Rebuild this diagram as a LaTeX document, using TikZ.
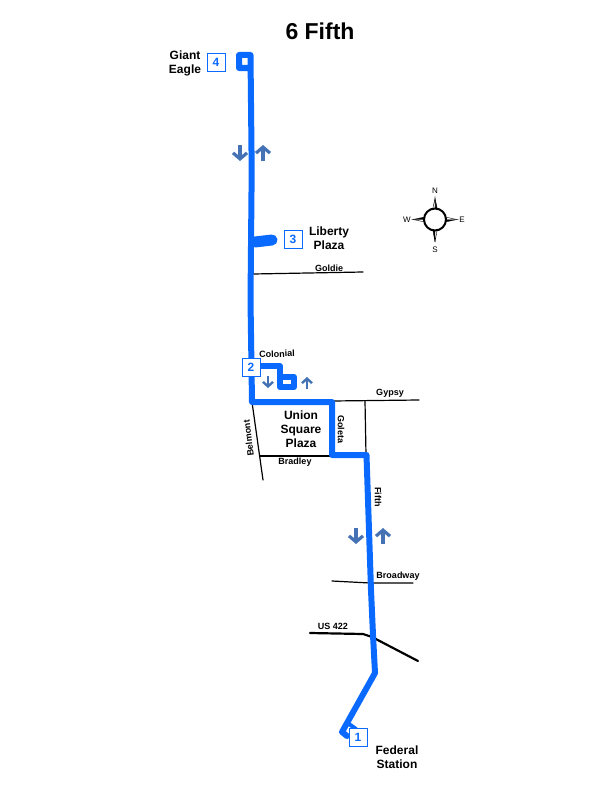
\documentclass[tikz,border=0pt]{standalone}
\usepackage{fontspec}
\setmainfont{Liberation Sans}
\usepackage{tkz-euclide}
\usetikzlibrary{arrows.meta}
\definecolor{routeblue}{HTML}{0A6AFF}
\definecolor{arrowblue}{HTML}{4472B4}
\tikzset{
	route/.style={color=routeblue,line width=6pt,line join=round,line cap=round},
	street/.style={color=black,line width=1.2pt},
	stopbox/.style={draw=routeblue,fill=white,line width=0.9pt,minimum size=18pt,inner sep=0pt,text=routeblue,font=\bfseries\fontsize{12}{12}\selectfont},
	place/.style={align=center,font=\bfseries\fontsize{12}{14}\selectfont},
	streetname/.style={font=\bfseries\fontsize{9}{9}\selectfont,inner sep=0pt},
	compassname/.style={font=\fontsize{8}{8}\selectfont,inner sep=0pt},
	dirarrow/.style={color=arrowblue,line width=3.2pt,-{Straight Barb[length=6pt,width=14pt,line width=3.2pt]}},
	smallarrow/.style={color=arrowblue,line width=2.4pt,-{Straight Barb[length=4.5pt,width=10pt,line width=2.4pt]}},
	spike/.style={fill=black,draw=black,line width=0.4pt},
	spikecore/.style={fill=white,draw=black,line width=0.4pt}
}
\begin{document}
\begin{tikzpicture}[x=1pt,y=-1pt]
	\useasboundingbox (0,0) rectangle (612,792);
	
	\tkzDefPoints{250.5/55/Ta,239/55/Tb,239/68/Tc,250.5/68/Td,251.7/170/Te,250.5/300/Tf,252/402/Tg,
		332/402/Th,332/455/Ti,366.5/455/Tj,371/590/Tk,373/635/Tl,375/673/Tm,342/732/Tn,347/736/To,
		349/724/Tp,356/729/Tq}
	\tkzDefPoints{255/242/La,272/240/Lb,251/366/Ca,280/366/Cb,280/377/Cc,294/377/Cd,294/387/Ce,280/387/Cf}
	
	\tkzDefPoints{253/274/Ga,363/272/Gb,332/401/Ya,419/400/Yb,365/401/Za,366/455/Zb,
		252/402/Ba,263/480/Bb,260/456/Ra,332/456/Rb,332/581/Wa,370/583/Wb,413/583/Wc,
		310/633/Ua,363/634/Ub,372/637/Uc,418/661/Ud}
	
	\tkzDrawSegment[street](Ga,Gb)
	\tkzDrawSegment[street](Ya,Yb)
	\tkzDrawSegment[street](Za,Zb)
	\tkzDrawSegment[street](Ba,Bb)
	\tkzDrawSegment[street](Ra,Rb)
	\tkzDrawPolySeg[street](Wa,Wb,Wc)
	\tkzDrawPolySeg[street,line width=2.2pt](Ua,Ub,Uc,Ud)
	
	\tkzDrawPolySeg[route](Td,Tc,Tb,Ta,Te,Tf,Tg,Th,Ti,Tj,Tk,Tl,Tm,Tn,To)
	\tkzDrawSegment[route,line width=4pt](Tp,Tq)
	\tkzDrawSegment[route,line width=11pt](La,Lb)
	\tkzDrawPolySeg[route](Ca,Cb,Cf,Ce,Cd,Cc)
	
	\draw[dirarrow] (240,145) -- (240,161);
	\draw[dirarrow] (263,161) -- (263,145);
	\draw[smallarrow] (268,376) -- (268,388);
	\draw[smallarrow] (307,389) -- (307,377);
	\draw[dirarrow] (356,528) -- (356,544);
	\draw[dirarrow] (383,544) -- (383,528);
	
	\node[stopbox] (stopone) at (358,737) {1};
	\node[stopbox] (stoptwo) at (251,367) {2};
	\node[stopbox] (stopthree) at (293,239) {3};
	\node[stopbox] (stopfour) at (216,62) {4};
	
	\node[font=\bfseries\fontsize{23}{23}\selectfont] (title) at (320,31) {6 Fifth};
	\node[place] (eagle) at (185,63) {Giant\\Eagle};
	\node[place] (liberty) at (329,238) {Liberty\\Plaza};
	\node[place] (union) at (301,429.5) {Union\\Square\\Plaza};
	\node[place] (federal) at (397,757) {Federal\\Station};
	
	\node[streetname] (goldie) at (329,268) {Goldie};
	\node[streetname,rotate=2] (colonial) at (277,354) {Colonial};
	\node[streetname] (gypsy) at (390,393) {Gypsy};
	\node[streetname] (bradley) at (295,462) {Bradley};
	\node[streetname,rotate=97] (belmont) at (248.5,438) {Belmont};
	\node[streetname,rotate=-90] (goleta) at (341,429) {Goleta};
	\node[streetname,rotate=-90] (fifth) at (378,497) {Fifth};
	\node[streetname] (broadway) at (398,576) {Broadway};
	\node[streetname] (usroad) at (333,626) {US 422};
	
	\fill[spike] (435,198) -- (437.5,210) -- (435,210) -- cycle;
	\filldraw[spikecore] (435,198) -- (432.5,210) -- (435,210) -- cycle;
	\fill[spike] (435,242) -- (432.5,228) -- (435,228) -- cycle;
	\filldraw[spikecore] (435,242) -- (437.5,228) -- (435,228) -- cycle;
	\fill[spike] (413,219.5) -- (425,217) -- (425,219.5) -- cycle;
	\filldraw[spikecore] (413,219.5) -- (425,222) -- (425,219.5) -- cycle;
	\fill[spike] (457,219.5) -- (445,222) -- (445,219.5) -- cycle;
	\filldraw[spikecore] (457,219.5) -- (445,217) -- (445,219.5) -- cycle;
	\draw[black,line width=2pt,fill=white] (435,219.5) circle (11);
	\node[compassname] (north) at (435,191) {N};
	\node[compassname] (south) at (435,250) {S};
	\node[compassname] (west) at (407,220) {W};
	\node[compassname] (east) at (462,220) {E};
\end{tikzpicture}
\end{document}
